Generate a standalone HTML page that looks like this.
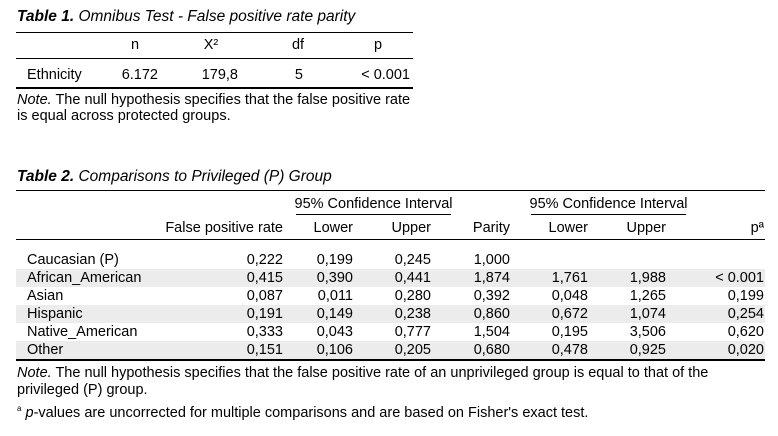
<!DOCTYPE html>
<html><head><meta charset="utf-8">
<style>
body{margin:0;width:778px;height:436px;background:#fff;position:relative;overflow:hidden;font-family:"Liberation Sans","DejaVu Sans",sans-serif;font-size:14.5px;color:#000}
.t{position:absolute;white-space:nowrap;line-height:15px}
.r{text-align:right}
.c{text-align:center}
.ln{position:absolute;background:#000}
.sh{position:absolute;background:#ececec}
.ttl{font-size:15.5px}
i{font-style:italic}
</style></head><body>
<div class="t ttl" style="left:17px;top:9px"><b><i>Table 1.</i></b> <i>Omnibus Test - False positive rate parity</i></div>
<div class="ln" style="left:16px;top:32px;width:397px;height:1px"></div>
<div class="t c" style="left:115px;width:40px;top:38px">n</div>
<div class="t c" style="left:191px;width:40px;top:38px">X²</div>
<div class="t c" style="left:278px;width:40px;top:38px">df</div>
<div class="t c" style="left:358px;width:40px;top:38px">p</div>
<div class="ln" style="left:16px;top:58px;width:397px;height:1px"></div>
<div class="t" style="left:27px;top:68px">Ethnicity</div>
<div class="t r" style="right:620px;top:68px">6.172</div>
<div class="t r" style="right:540px;top:68px">179,8</div>
<div class="t r" style="right:475px;top:68px">5</div>
<div class="t r" style="right:368px;top:68px">&lt; 0.001</div>
<div class="ln" style="left:16px;top:87px;width:397px;height:2px"></div>
<div class="t" style="left:17px;top:93px"><i>Note.</i> The null hypothesis specifies that the false positive rate</div>
<div class="t" style="left:17px;top:109px">is equal across protected groups.</div>

<div class="t ttl" style="left:17px;top:169px"><b><i>Table 2.</i></b> <i>Comparisons to Privileged (P) Group</i></div>
<div class="ln" style="left:16px;top:190px;width:749px;height:1px"></div>
<div class="t c" style="left:290px;width:167px;top:197px">95% Confidence Interval</div>
<div class="ln" style="left:296px;top:214px;width:155px;height:1px"></div>
<div class="t c" style="left:525px;width:167px;top:197px">95% Confidence Interval</div>
<div class="ln" style="left:531px;top:214px;width:155px;height:1px"></div>
<div class="t r" style="right:495px;top:221px">False positive rate</div>
<div class="t r" style="right:425px;top:221px">Lower</div>
<div class="t r" style="right:347px;top:221px">Upper</div>
<div class="t r" style="right:268px;top:221px">Parity</div>
<div class="t r" style="right:190px;top:221px">Lower</div>
<div class="t r" style="right:112px;top:221px">Upper</div>
<div class="t r" style="right:14px;top:221px">pª</div>
<div class="ln" style="left:16px;top:239px;width:749px;height:1px"></div>

<div class="sh" style="left:16px;top:269px;width:749px;height:18px"></div>
<div class="sh" style="left:16px;top:305px;width:749px;height:18px"></div>
<div class="sh" style="left:16px;top:341px;width:749px;height:18px"></div>

<div class="ln" style="left:16px;top:359px;width:749px;height:2px"></div>
<div class="t" style="left:17px;top:366px"><i>Note.</i> The null hypothesis specifies that the false positive rate of an unprivileged group is equal to that of the</div>
<div class="t" style="left:17px;top:383px">privileged (P) group.</div>
<div class="t" style="left:17px;top:401px"><sup style="font-size:8px">a</sup> <i>p</i>-values are uncorrected for multiple comparisons and are based on Fisher's exact test.</div>

<script>
const groups=["Caucasian (P)","African_American","Asian","Hispanic","Native_American","Other"];
const fpr=["0,222","0,415","0,087","0,191","0,333","0,151"];
const lower1=["0,199","0,390","0,011","0,149","0,043","0,106"];
const upper1=["0,245","0,441","0,280","0,238","0,777","0,205"];
const parity=["1,000","1,874","0,392","0,860","1,504","0,680"];
const lower2=["","1,761","0,048","0,672","0,195","0,478"];
const upper2=["","1,988","1,265","1,074","3,506","0,925"];
const pvals=["","< 0.001","0,199","0,254","0,620","0,020"];
const cols=[[fpr,495,'fpr'],[lower1,425,'lower-1'],[upper1,347,'upper-1'],[parity,268,'parity'],[lower2,190,'lower-2'],[upper2,112,'upper-2'],[pvals,14,'p']];
const host=document.body;
groups.forEach((g,i)=>{
  const top=(253+i*18)+'px';
  const lab=document.createElement('div');
  lab.className='t';
  lab.style.left='27px';lab.style.top=top;
  lab.textContent=g;
  
  
  host.appendChild(lab);
  cols.forEach(([arr,right,nm])=>{
    if(!arr[i])return;
    const c=document.createElement('div');
    c.className='t r';
    c.style.right=right+'px';c.style.top=top;
    c.textContent=arr[i];
    
    
    host.appendChild(c);
  });
});
</script>
</body></html>
